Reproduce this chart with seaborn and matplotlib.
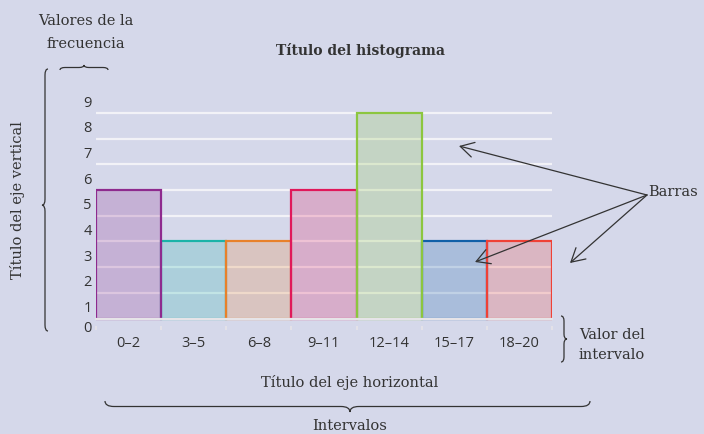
import numpy as np
import matplotlib
matplotlib.use("Agg")
import matplotlib.pyplot as plt
from matplotlib.path import Path
from matplotlib.patches import PathPatch
from matplotlib.colors import to_rgba
import seaborn as sns

# Datos del histograma (alturas en unidades de la cuadricula)
intervalos = ["0–2", "3–5", "6–8", "9–11", "12–14", "15–17", "18–20"]
frecuencias = [5, 3, 3, 5, 8, 3, 3]
etiquetas_y = ["0", "1", "2", "3", "4", "5", "6", "7", "8", "9"]
bordes = ["#8E2A8E", "#1BB3A8", "#E8812B", "#E0185A", "#8CC63F", "#1060A8", "#EF4136"]

BG = "#D5D8EA"
TXT = "#333333"
SERIF = "DejaVu Serif"

sns.set_theme(style="white")
plt.rcParams["font.family"] = ["Open Sans", "DejaVu Sans"]

fig = plt.figure(figsize=(7.04, 4.35), dpi=100, facecolor=BG)
ax = fig.add_axes([96 / 704, (435 - 326.7) / 435, 456 / 704, 9 * 26.5 / 435])
ax.set_facecolor(BG)

# gridlines first, bars translucent on top
for v in range(1, 9):
    ax.axhline(v, color="#F2F2F7", lw=1.6, zorder=1)

sns.barplot(x=intervalos, y=frecuencias, hue=intervalos, palette=bordes,
            width=1.0, legend=False, ax=ax, zorder=2)
# taller bar's edge wins at the shared border
for i, (p, c, f) in enumerate(zip(ax.patches, bordes, frecuencias)):
    p.set_facecolor(to_rgba(c, 0.22))
    p.set_edgecolor(c)
    p.set_linewidth(1.6)
    p.set_zorder(2 + f * 0.01 + i * 0.001)

ax.set_xlim(-0.5, len(intervalos) - 0.5)
ax.set_ylim(0, 9)
ax.axhline(0, color="#E6E4E8", lw=1.6, zorder=3, clip_on=False)
for s in ax.spines.values():
    s.set_visible(False)

ax.set_yticks([-0.28] + [k - 0.5 for k in range(1, 10)])
ax.set_yticklabels(etiquetas_y)
ax.tick_params(axis="y", length=0, pad=3, labelsize=10.5, labelcolor=TXT)
ax.tick_params(axis="x", length=0, pad=7, labelsize=10.5, labelcolor=TXT)
ax.set_xticks(np.arange(-0.5, len(intervalos)), minor=True)
ax.tick_params(axis="x", which="minor", length=3, width=1.2, color="#E6E4E8",
               bottom=True, direction="out")
ax.set_xlabel("")
ax.set_ylabel("")

# capa de anotaciones en pixeles
ov = fig.add_axes([0, 0, 1, 1], facecolor="none")
ov.set_xlim(0, 704)
ov.set_ylim(435, 0)
ov.axis("off")


def llave(p0, p1, h, tip=0.5, c=7):
    p0 = np.array(p0, float)
    p1 = np.array(p1, float)
    L = np.linalg.norm(p1 - p0)
    u = (p1 - p0) / L
    n = np.array([-u[1], u[0]])
    m = tip * L
    loc = [(0, 0), (0, h / 2), (c, h / 2), (m - c, h / 2), (m, h / 2), (m, h),
           (m, h / 2), (m + c, h / 2), (L - c, h / 2), (L, h / 2), (L, 0)]
    codes = [Path.MOVETO, Path.CURVE3, Path.CURVE3, Path.LINETO, Path.CURVE3, Path.CURVE3,
             Path.CURVE3, Path.CURVE3, Path.LINETO, Path.CURVE3, Path.CURVE3]
    pts = [p0 + s * u + t * n for s, t in loc]
    ov.add_patch(PathPatch(Path(pts, codes), fill=False, lw=0.9, color=TXT))


llave((60, 71), (108, 71), -5, c=5)
llave((48, 70), (48, 332), 6, tip=0.52, c=6)
llave((561, 317), (561, 363), -6, c=5)
llave((105, 402), (590, 402), 11, tip=0.505, c=9)

tk = dict(family=SERIF, color=TXT, fontsize=10.5, ha="center", va="center")
ov.text(86, 21, "Valores de la", **tk)
ov.text(86, 44, "frecuencia", **tk)
ov.text(360, 50, "Título del histograma", family=SERIF, color=TXT, fontsize=10,
        fontweight="bold", ha="center", va="center")
ov.text(18, 200, "Título del eje vertical", rotation=90, **tk)
ov.text(350, 383, "Título del eje horizontal", **tk)
ov.text(350, 426, "Intervalos", **tk)
ov.text(579, 335, "Valor del", family=SERIF, color=TXT, fontsize=10.5, ha="left", va="center")
ov.text(579, 355, "intervalo", family=SERIF, color=TXT, fontsize=10.5, ha="left", va="center")
ov.text(648, 192, "Barras", family=SERIF, color=TXT, fontsize=10.5, ha="left", va="center")

for tx, ty in [(459, 147), (475, 263), (570, 264)]:
    ov.annotate("", xy=(tx, ty), xytext=(647, 196),
                arrowprops=dict(arrowstyle="->,head_length=0.8,head_width=0.45",
                                color=TXT, lw=0.9, shrinkA=0, shrinkB=0))

fig.savefig("out.png", dpi=100, facecolor=BG)
